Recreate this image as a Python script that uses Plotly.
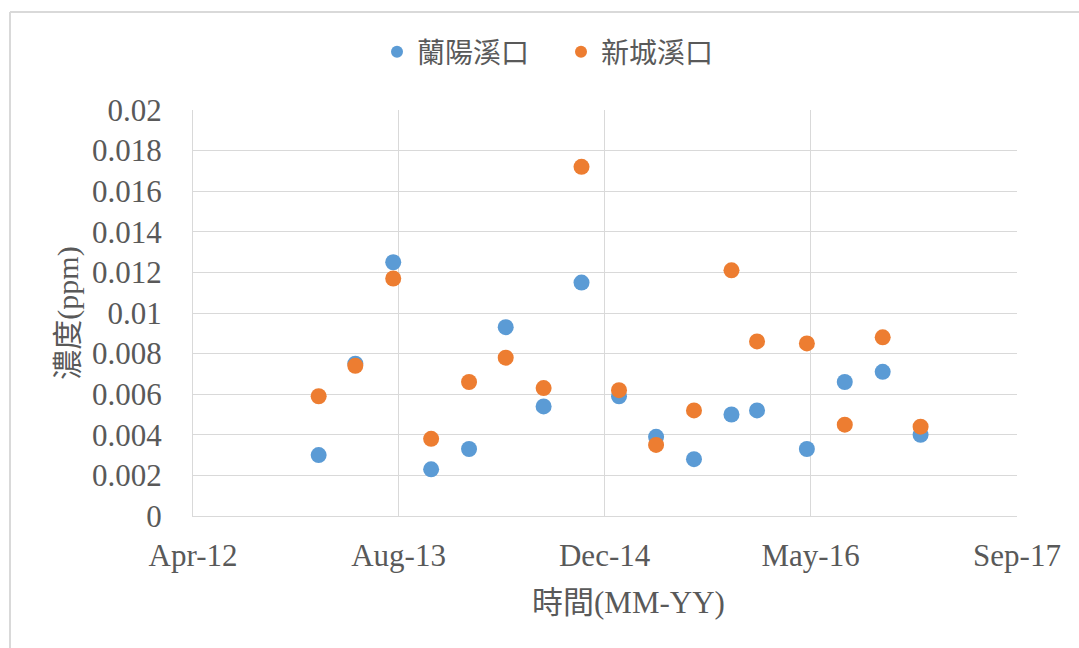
import plotly.graph_objects as go

# Sampling dates (quarterly) and concentrations (ppm)
dates = ["2013-01-31", "2013-04-30", "2013-07-31", "2013-10-31", "2014-01-31",
         "2014-04-30", "2014-07-31", "2014-10-31", "2015-01-30", "2015-04-30",
         "2015-07-31", "2015-10-30", "2015-12-31", "2016-04-30", "2016-07-31",
         "2016-10-31", "2017-01-31"]
lanyang = [0.0030, 0.0075, 0.0125, 0.0023, 0.0033, 0.0093, 0.0054, 0.0115, 0.0059,
           0.0039, 0.0028, 0.0050, 0.0052, 0.0033, 0.0066, 0.0071, 0.0040]
xincheng = [0.0059, 0.0074, 0.0117, 0.0038, 0.0066, 0.0078, 0.0063, 0.0172, 0.0062,
            0.0035, 0.0052, 0.0121, 0.0086, 0.0085, 0.0045, 0.0088, 0.0044]
series_names = ["蘭陽溪口", "新城溪口"]
x_ticks = ["2012-04-01", "2013-08-13", "2014-12-26", "2016-05-09", "2017-09-22"]
y_ticks = [0, 0.002, 0.004, 0.006, 0.008, 0.01, 0.012, 0.014, 0.016, 0.018, 0.02]
y_labels = ["0", "0.002", "0.004", "0.006", "0.008", "0.01", "0.012", "0.014",
            "0.016", "0.018", "0.02"]
x_title = "時間(MM-YY)"
y_title = "濃度(ppm)"

BLUE = "#5B9BD5"
ORANGE = "#ED7D31"
TEXT = "#595959"
GRID = "#D9D9D9"
FONT = "Liberation Serif, Times New Roman, Noto Sans CJK TC, serif"

fig = go.Figure()
for name, vals, col in [(series_names[0], lanyang, BLUE), (series_names[1], xincheng, ORANGE)]:
    fig.add_trace(go.Scatter(
        x=dates, y=vals, mode="markers", name=name,
        marker=dict(color=col, size=16, line=dict(width=0)),
    ))

W, H = 1079, 648
L, R, T, B = 193, 62, 110, 132
pw, ph = W - L - R, H - T - B

def px(x):
    return (x - L) / pw

def py(y):
    return (H - B - y) / ph

fig.update_layout(
    width=W, height=H,
    margin=dict(l=L, r=R, t=T, b=B),
    paper_bgcolor="white", plot_bgcolor="white",
    font=dict(family=FONT, size=30, color=TEXT),
    showlegend=True,
    legend=dict(
        orientation="h", x=px(377), xanchor="left", y=py(52), yanchor="middle",
        font=dict(family="Noto Sans CJK TC, sans-serif", size=28, color=TEXT),
        itemsizing="constant", itemwidth=30, bgcolor="rgba(0,0,0,0)",
        entrywidth=139, entrywidthmode="pixels",
    ),
    xaxis=dict(
        type="date", range=[x_ticks[0], x_ticks[-1]],
        tickvals=x_ticks, tickformat="%b-%y",
        showgrid=True, gridcolor=GRID, gridwidth=1,
        showline=True, linecolor=GRID, linewidth=1, mirror=False,
        zeroline=False,
        ticks="outside", ticklen=12, tickcolor="rgba(0,0,0,0)",
        tickfont=dict(family=FONT, size=31, color=TEXT),
    ),
    yaxis=dict(
        range=[0, 0.02], tickvals=y_ticks, ticktext=y_labels,
        showgrid=True, gridcolor=GRID, gridwidth=1,
        showline=True, linecolor=GRID, linewidth=1,
        zeroline=False,
        ticks="outside", ticklen=24, tickcolor="rgba(0,0,0,0)",
        tickfont=dict(family=FONT, size=31, color=TEXT),
        title=dict(text=y_title, standoff=4,
                   font=dict(family=FONT, size=30, color=TEXT)),
    ),
)

# x-axis title placed below the tick labels
fig.add_annotation(text=x_title, xref="paper", yref="paper",
                   x=px(628), y=py(602), xanchor="center", yanchor="middle",
                   showarrow=False, font=dict(family=FONT, size=31, color=TEXT))

# Outer chart frame (top and left edges)
fig.add_shape(type="line", xref="paper", yref="paper",
              x0=px(10), x1=px(W + 5), y0=py(12), y1=py(12),
              line=dict(color=GRID, width=2), layer="above")
fig.add_shape(type="line", xref="paper", yref="paper",
              x0=px(10), x1=px(10), y0=py(12), y1=py(H + 5),
              line=dict(color=GRID, width=2), layer="above")

fig.write_html("out.html")
